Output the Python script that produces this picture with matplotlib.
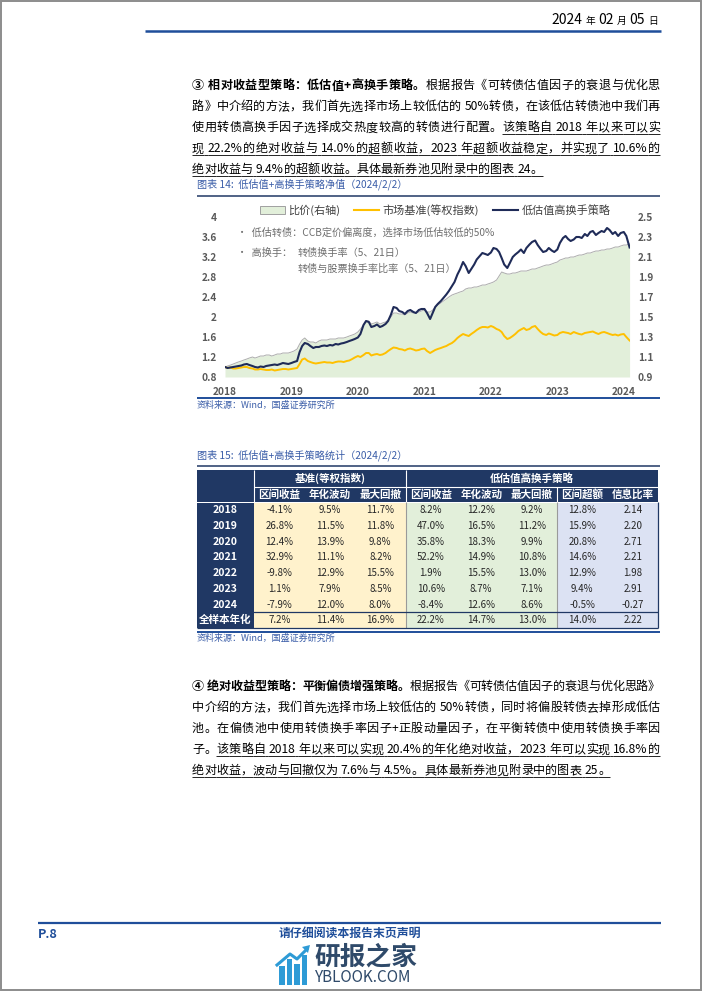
import re
import matplotlib
matplotlib.use('Agg')
import matplotlib.pyplot as plt
import matplotlib.dates as mdates
import pandas as pd
from matplotlib.patches import Rectangle, Patch, Polygon
from matplotlib.lines import Line2D
from matplotlib.ticker import FixedLocator, FuncFormatter

FONT = ['Noto Sans CJK SC', 'DejaVu Sans']
plt.rcParams['font.family'] = FONT
plt.rcParams['axes.unicode_minus'] = False

# ---------------- data (values on the 1st and 15th of each month, last = 2024-02-02) ----------------
dates = list(pd.date_range('2018-01-01', '2024-01-15', freq='SMS')) + [pd.Timestamp('2024-02-02')]

strategy = [
    1.00, 0.98, 0.99, 1.00, 1.01, 1.02, 1.03, 1.05, 1.06, 1.04, 1.02, 1.00,
    0.99, 1.01, 1.00, 1.02, 1.03, 1.04, 1.05, 1.04, 1.06, 1.08, 1.07, 1.06,
    1.08, 1.10, 1.12, 1.30, 1.42, 1.48, 1.46, 1.42, 1.38, 1.40, 1.40, 1.42,
    1.43, 1.42, 1.44, 1.43, 1.46, 1.45, 1.47, 1.48, 1.50, 1.52, 1.54, 1.56,
    1.59, 1.66, 1.84, 1.92, 1.90, 1.80, 1.82, 1.85, 1.80, 1.82, 1.86, 1.92,
    2.05, 2.20, 2.18, 2.12, 2.10, 2.06, 2.12, 2.14, 2.10, 2.08, 2.14, 2.16,
    2.16, 2.08, 1.96, 2.08, 2.20, 2.26, 2.32, 2.38, 2.45, 2.52, 2.62, 2.70,
    2.85, 2.95, 3.10, 3.02, 2.88, 2.96, 3.05, 3.15, 3.22, 3.28, 3.26, 3.24,
    3.29, 3.38, 3.36, 3.30, 3.18, 3.05, 2.98, 3.08, 3.20, 3.25, 3.30, 3.35,
    3.28, 3.38, 3.45, 3.50, 3.53, 3.44, 3.36, 3.30, 3.32, 3.38, 3.33, 3.30,
    3.35, 3.48, 3.58, 3.62, 3.56, 3.52, 3.55, 3.60, 3.60, 3.58, 3.66, 3.62,
    3.70, 3.72, 3.64, 3.68, 3.72, 3.70, 3.78, 3.74, 3.66, 3.70, 3.62, 3.68,
    3.70, 3.62, 3.39]

benchmark = [
    1.00, 0.98, 0.99, 0.97, 0.97, 0.98, 0.99, 1.00, 1.00, 0.98, 0.97, 0.95,
    0.95, 0.96, 0.95, 0.94, 0.94, 0.95, 0.93, 0.94, 0.95, 0.96, 0.96, 0.95,
    0.96, 0.97, 0.98, 1.06, 1.15, 1.17, 1.12, 1.10, 1.08, 1.07, 1.08, 1.09,
    1.10, 1.09, 1.09, 1.08, 1.10, 1.11, 1.11, 1.10, 1.12, 1.13, 1.16, 1.19,
    1.22, 1.20, 1.24, 1.28, 1.28, 1.23, 1.25, 1.26, 1.24, 1.25, 1.28, 1.32,
    1.36, 1.39, 1.38, 1.36, 1.35, 1.33, 1.36, 1.37, 1.35, 1.33, 1.34, 1.36,
    1.37, 1.32, 1.28, 1.31, 1.34, 1.36, 1.38, 1.40, 1.42, 1.45, 1.48, 1.52,
    1.58, 1.62, 1.66, 1.64, 1.62, 1.66, 1.70, 1.74, 1.78, 1.80, 1.80, 1.79,
    1.82, 1.80, 1.76, 1.74, 1.70, 1.62, 1.56, 1.58, 1.62, 1.66, 1.72, 1.75,
    1.78, 1.74, 1.76, 1.80, 1.82, 1.76, 1.70, 1.66, 1.64, 1.67, 1.65, 1.63,
    1.64, 1.68, 1.70, 1.69, 1.68, 1.66, 1.70, 1.68, 1.66, 1.65, 1.68, 1.69,
    1.70, 1.71, 1.68, 1.66, 1.69, 1.70, 1.68, 1.66, 1.64, 1.65, 1.63, 1.65,
    1.66, 1.60, 1.53]

price_ratio = [
    1.00, 1.01, 1.02, 1.03, 1.04, 1.05, 1.06, 1.07, 1.08, 1.09, 1.10, 1.09,
    1.10, 1.11, 1.11, 1.12, 1.12, 1.11, 1.12, 1.13, 1.13, 1.14, 1.14, 1.14,
    1.15, 1.16, 1.18, 1.23, 1.27, 1.29, 1.26, 1.25, 1.25, 1.24, 1.26, 1.27,
    1.27, 1.27, 1.28, 1.28, 1.28, 1.29, 1.29, 1.29, 1.30, 1.31, 1.32, 1.33,
    1.35, 1.38, 1.42, 1.46, 1.46, 1.43, 1.44, 1.45, 1.43, 1.44, 1.45, 1.47,
    1.50, 1.54, 1.54, 1.53, 1.53, 1.52, 1.54, 1.55, 1.54, 1.54, 1.55, 1.56,
    1.57, 1.55, 1.55, 1.57, 1.60, 1.62, 1.64, 1.66, 1.68, 1.70, 1.72, 1.73,
    1.74, 1.75, 1.76, 1.78, 1.79, 1.79, 1.80, 1.80, 1.81, 1.82, 1.82, 1.83,
    1.84, 1.85, 1.87, 1.91, 1.95, 1.94, 1.93, 1.93, 1.94, 1.94, 1.95, 1.96,
    1.96, 1.96, 1.97, 1.98, 1.98, 1.99, 2.00, 2.01, 2.02, 2.02, 2.03, 2.04,
    2.05, 2.07, 2.08, 2.09, 2.09, 2.10, 2.10, 2.11, 2.12, 2.12, 2.13, 2.14,
    2.14, 2.15, 2.16, 2.16, 2.17, 2.17, 2.18, 2.18, 2.19, 2.20, 2.20, 2.21,
    2.22, 2.22, 2.23]

left_ticks = [0.8, 1.2, 1.6, 2.0, 2.4, 2.8, 3.2, 3.6, 4.0]
right_ticks = [0.9, 1.1, 1.3, 1.5, 1.7, 1.9, 2.1, 2.3, 2.5]
legend_labels = ['比价(右轴)', '市场基准(等权指数)', '低估值高换手策略']

row_labels = ['2018', '2019', '2020', '2021', '2022', '2023', '2024', '全样本年化']
group_labels = ['基准(等权指数)', '低估值高换手策略']
col_labels = ['区间收益', '年化波动', '最大回撤', '区间收益', '年化波动', '最大回撤', '区间超额', '信息比率']
bench_ret = [-4.1, 26.8, 12.4, 32.9, -9.8, 1.1, -7.9, 7.2]
bench_vol = [9.5, 11.5, 13.9, 11.1, 12.9, 7.9, 12.0, 11.4]
bench_dd = [11.7, 11.8, 9.8, 8.2, 15.5, 8.5, 8.0, 16.9]
strat_ret = [8.2, 47.0, 35.8, 52.2, 1.9, 10.6, -8.4, 22.2]
strat_vol = [12.2, 16.5, 18.3, 14.9, 15.5, 8.7, 12.6, 14.7]
strat_dd = [9.2, 11.2, 9.9, 10.8, 13.0, 7.1, 8.6, 13.0]
excess_ret = [12.8, 15.9, 20.8, 14.6, 12.9, 9.4, -0.5, 14.0]
info_ratio = [2.14, 2.20, 2.71, 2.21, 1.98, 2.91, -0.27, 2.22]

# ---------------- page helpers ----------------
W, H = 702, 991
fig = plt.figure(figsize=(W / 100, H / 100), dpi=100)
fig.patch.set_facecolor('white')
R = fig.canvas.get_renderer()

NAVY = '#203864'
BLUE = '#1F4E9A'
CAP = '#3A5DA8'


def fy(y):
    return 1 - y / H


def HL(x0, x1, y, color, lw):
    fig.add_artist(Line2D([x0 / W, x1 / W], [fy(y), fy(y)], transform=fig.transFigure,
                          color=color, lw=lw, solid_capstyle='butt'))


def VL(x, y0, y1, color, lw):
    fig.add_artist(Line2D([x / W, x / W], [fy(y0), fy(y1)], transform=fig.transFigure,
                          color=color, lw=lw, solid_capstyle='butt'))


def RECT(x, y, w, h, fc, ec='none', lw=0):
    fig.add_artist(Rectangle((x / W, fy(y + h)), w / W, h / H, transform=fig.transFigure,
                             facecolor=fc, edgecolor=ec, lw=lw))


def T(x, y, s, size=8, color='black', weight='normal', ha='left', va='center', style='normal'):
    return fig.text(x / W, fy(y), s, fontsize=size, color=color, fontweight=weight,
                    ha=ha, va=va, fontstyle=style)


def runs(x, y, parts, align='left', color='black'):
    objs, total = [], 0
    for p in parts:
        if isinstance(p, (int, float)):
            objs.append((None, p)); total += p
            continue
        s, size, wt, st = p
        t = fig.text(0, fy(y), s, fontsize=size, fontweight=wt, fontstyle=st,
                     color=color, va='baseline', ha='left')
        w = t.get_window_extent(R).width
        objs.append((t, w)); total += w
    x0 = x - total if align == 'right' else (x - total / 2 if align == 'center' else x)
    for t, w in objs:
        if t is not None:
            t.set_x(x0 / W)
        x0 += w


TOK = re.compile(r'[A-Za-z0-9%.+/]+| |.')


def para_line(yc, segs, x0=192, x1=660, size=8.7, justify=True):
    base = yc + 4.3
    items = []
    for s, bold, ul in segs:
        for tok in TOK.findall(s):
            if tok == ' ':
                items.append((None, 3.2, ul))
                continue
            t = fig.text(0, fy(base), tok, fontsize=size, color='black',
                         fontweight='bold' if bold else 'normal', va='baseline', ha='left')
            items.append((t, t.get_window_extent(R).width, ul))
    total = sum(w for _, w, _ in items)
    n = len(items)
    gap = (x1 - x0 - total) / (n - 1) if (justify and n > 1) else 0.0
    x = x0
    for i, (t, w, ul) in enumerate(items):
        if t is not None:
            t.set_x(x / W)
        nx = x + w + gap
        if ul:
            end = nx if (i + 1 < n and items[i + 1][2]) else x + w
            HL(x, end, base + 2.8, 'black', 0.6)
        x = nx


# ---------------- page frame / header ----------------
RECT(0.8, 0.8, W - 1.6, H - 1.6, 'none', ec='#8C8C8C', lw=1.4)
runs(658, 24, [('2024', 10, 'normal', 'normal'), 3, ('年', 7, 'normal', 'normal'), 3,
               ('02', 10, 'normal', 'normal'), 3, ('月', 7, 'normal', 'normal'), 3,
               ('05', 10, 'normal', 'normal'), 3, ('日', 7, 'normal', 'normal')], align='right')
HL(145, 661, 31, BLUE, 1.8)

# ---------------- paragraph 1 ----------------
p1 = [
    [('③ 相对收益型策略：低估值+高换手策略。', True, False), ('根据报告《可转债估值因子的衰退与优化思', False, False)],
    [('路》中介绍的方法，我们首先选择市场上较低估的 50%转债，在该低估转债池中我们再', False, False)],
    [('使用转债高换手因子选择成交热度较高的转债进行配置。', False, False), ('该策略自 2018 年以来可以实', False, True)],
    [('现 22.2%的绝对收益与 14.0%的超额收益，2023 年超额收益稳定，并实现了 10.6%的', False, True)],
    [('绝对收益与 9.4%的超额收益。具体最新券池见附录中的图表 24。', False, True)],
]
for i, (yc, segs) in enumerate(zip([85, 106, 127, 148, 168.5], p1)):
    para_line(yc, segs, justify=(i < len(p1) - 1))

# ---------------- chart caption ----------------
T(197, 184, '图表 14:  低估值+高换手策略净值（2024/2/2）', size=7.3, color=CAP, style='italic')
HL(197, 660, 195.5, NAVY, 1.1)

# ---------------- chart ----------------
ax = fig.add_axes([225 / W, fy(377), (629.6 - 225) / W, 160 / H])
ax2 = ax.twinx()
ax2.fill_between(dates, 0.9, price_ratio, color='#E2EFDA', lw=0, zorder=1)
ax2.plot(dates, price_ratio, color='#ADADAD', lw=0.7, zorder=2)
ax.set_zorder(ax2.get_zorder() + 1)
ax.patch.set_visible(False)
ax.plot(dates, benchmark, color='#FFC000', lw=1.4)
ax.plot(dates, strategy, color='#1F2B58', lw=1.5)
ax.set_xlim(pd.Timestamp('2018-01-01'), pd.Timestamp('2024-02-02'))
ax.set_ylim(0.8, 4.0)
ax2.set_ylim(0.9, 2.5)
ax.yaxis.set_major_locator(FixedLocator(left_ticks))
ax.yaxis.set_major_formatter(FuncFormatter(lambda v, p: f'{v:g}'))
ax2.yaxis.set_major_locator(FixedLocator(right_ticks))
ax2.yaxis.set_major_formatter(FuncFormatter(lambda v, p: f'{v:g}'))
ax.xaxis.set_major_locator(mdates.YearLocator())
ax.xaxis.set_major_formatter(mdates.DateFormatter('%Y'))
for a in (ax, ax2):
    for s in a.spines.values():
        s.set_visible(False)
    a.tick_params(length=0, labelsize=7.3, labelcolor='#595959')
ax.tick_params(axis='y', pad=6)
ax2.tick_params(axis='y', pad=6)
ax.tick_params(axis='x', pad=7)
for lbl in ax.get_xticklabels() + ax.get_yticklabels() + ax2.get_yticklabels():
    lbl.set_fontweight('bold')

handles = [Patch(facecolor='#E2EFDA', edgecolor='#A0A0A0', lw=0.7),
           Line2D([], [], color='#FFC000', lw=1.5),
           Line2D([], [], color='#1F2B58', lw=1.5)]
fig.legend(handles, legend_labels, loc='center', bbox_to_anchor=(435 / W, fy(210)), ncol=3,
           frameon=False, fontsize=8, handlelength=2.3, handleheight=0.7,
           handletextpad=0.3, columnspacing=1.2, labelcolor='#404040')

NOTE = '#6E6E6E'
T(237, 233, '•  低估转债：CCB定价偏离度，选择市场低估较低的50%', size=7.3, color=NOTE, style='italic')
T(237, 253, '•  高换手：', size=7.3, color=NOTE, style='italic')
T(298, 253, '转债换手率（5、21日）', size=7.3, color=NOTE, style='italic')
T(298, 269, '转债与股票换手率比率（5、21日）', size=7.3, color=NOTE, style='italic')

HL(197, 660, 398, BLUE, 1.4)
T(197, 405, '资料来源：Wind，国盛证券研究所', size=6.5, color=CAP, style='italic')

# ---------------- table ----------------
T(197, 455, '图表 15:  低估值+高换手策略统计（2024/2/2）', size=7.3, color=CAP, style='italic')
HL(197, 660, 466, NAVY, 1.1)

TX0, C0W, CW = 197, 57, 50.5
bounds = [TX0 + C0W + i * CW for i in range(9)]
TT, H1, H2 = 470, 16.5, 16
RT, RH = TT + H1 + H2, 15.7
nrows = len(row_labels)
TB = RT + nrows * RH

RECT(TX0, TT, bounds[-1] - TX0, H1 + H2, NAVY)
RECT(TX0, RT, C0W, nrows * RH, NAVY)
RECT(bounds[0], RT, 3 * CW, nrows * RH, '#FFF2CC')
RECT(bounds[3], RT, 3 * CW, nrows * RH, '#E2EFDA')
RECT(bounds[6], RT, 2 * CW, nrows * RH, '#DCE2F3')

HL(bounds[0], bounds[-1], TT + H1, 'white', 0.8)
VL(bounds[0], TT, RT, 'white', 0.8)
VL(bounds[3], TT, RT, 'white', 0.8)
VL(bounds[6], TT + H1, RT, 'white', 0.8)
VL(bounds[3], RT, TB, '#9A9A9A', 0.8)
VL(bounds[6], RT, TB, '#9A9A9A', 0.8)
HL(TX0, bounds[-1], RT + (nrows - 1) * RH, NAVY, 0.9)
VL(bounds[-1], RT, TB, NAVY, 0.9)
HL(TX0, bounds[-1], TB, NAVY, 0.9)

T((bounds[0] + bounds[3]) / 2, TT + H1 / 2, group_labels[0], size=7.6, color='white', weight='bold', ha='center')
T((bounds[3] + bounds[-1]) / 2, TT + H1 / 2, group_labels[1], size=7.6, color='white', weight='bold', ha='center')
for j, c in enumerate(col_labels):
    T((bounds[j] + bounds[j + 1]) / 2, TT + H1 + H2 / 2, c, size=7.6, color='white', weight='bold', ha='center')

cols = [bench_ret, bench_vol, bench_dd, strat_ret, strat_vol, strat_dd, excess_ret]
for i, lab in enumerate(row_labels):
    yc = RT + (i + 0.5) * RH
    T(TX0 + C0W / 2, yc, lab, size=7.6, color='white', weight='bold', ha='center')
    for j, col in enumerate(cols):
        T((bounds[j] + bounds[j + 1]) / 2, yc, f'{col[i]:.1f}%', size=7, color='#262626', ha='center')
    T((bounds[7] + bounds[8]) / 2, yc, f'{info_ratio[i]:.2f}', size=7, color='#262626', ha='center')

HL(197, 660, TB + 3.5, BLUE, 1.4)
T(197, TB + 10, '资料来源：Wind，国盛证券研究所', size=6.5, color=CAP, style='italic')

# ---------------- paragraph 2 ----------------
p2 = [
    [('④ 绝对收益型策略：平衡偏债增强策略。', True, False), ('根据报告《可转债估值因子的衰退与优化思路》', False, False)],
    [('中介绍的方法，我们首先选择市场上较低估的 50%转债，同时将偏股转债去掉形成低估', False, False)],
    [('池。在偏债池中使用转债换手率因子+正股动量因子，在平衡转债中使用转债换手率因', False, False)],
    [('子。', False, False), ('该策略自 2018 年以来可以实现 20.4%的年化绝对收益，2023 年可以实现 16.8%的', False, True)],
    [('绝对收益，波动与回撤仅为 7.6%与 4.5%。具体最新券池见附录中的图表 25。', False, True)],
]
for i, (yc, segs) in enumerate(zip([686, 707, 728, 749, 770], p2)):
    para_line(yc, segs, justify=(i < len(p2) - 1))

# ---------------- footer ----------------
HL(38, 661, 923, BLUE, 1.6)
T(38, 934, 'P.8', size=9, color=BLUE, weight='bold', style='italic')
T(350, 934, '请仔细阅读本报告末页声明', size=8.6, color=BLUE, weight='bold', ha='center')

LOGO = '#2E9BD6'
for bx, btop in [(279, 966), (286.5, 959), (294, 964), (301.5, 955)]:
    RECT(bx, btop, 5.5, 985 - btop, LOGO)
fig.add_artist(Line2D([277 / W, 290 / W, 297 / W, 307 / W], [fy(965), fy(954), fy(959), fy(949)],
                      transform=fig.transFigure, color=LOGO, lw=2.2))
fig.add_artist(Polygon([(302 / W, fy(947)), (310 / W, fy(945)), (308 / W, fy(953))], closed=True,
                       transform=fig.transFigure, facecolor=LOGO, edgecolor='none'))
T(314, 957, '研报之家', size=18.5, color='#2F4A6A', weight='bold')
T(315, 978, 'YBLOOK.COM', size=11, color='#2F4A6A')

fig.savefig('out.png', dpi=100, facecolor='white')
